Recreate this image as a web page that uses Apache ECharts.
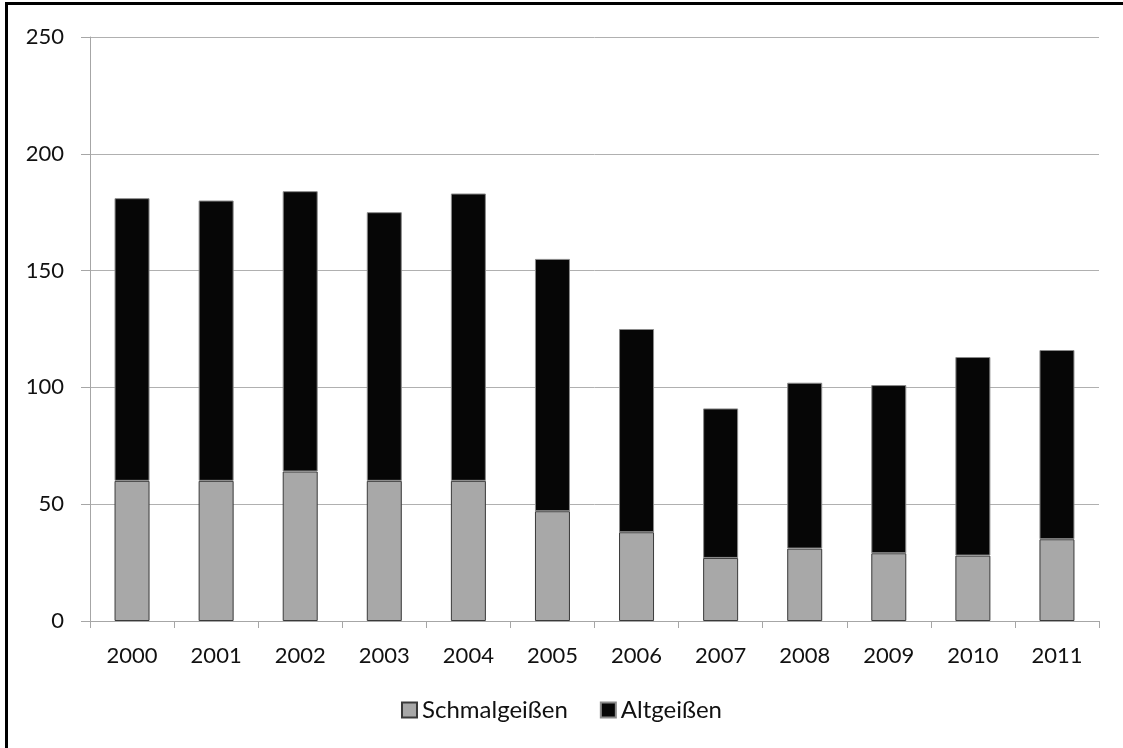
<!DOCTYPE html>
<html>
<head>
<meta charset="utf-8">
<script src="https://cdn.jsdelivr.net/npm/echarts@6/dist/echarts.min.js"></script>
<style>
  html, body { margin: 0; padding: 0; background: #fff; overflow: hidden; }
  #frame { position: absolute; left: 5px; top: 2px; width: 1130px; height: 760px;
           border-left: 3px solid #000; border-top: 3px solid #000; box-sizing: border-box; }
  #chart { position: absolute; left: 0; top: 0; width: 1123px; height: 748px; }
</style>
</head>
<body>
<div id="frame"></div>
<div id="chart"></div>
<script>
// Jahre und Abschusszahlen (Geißen)
const years = ['2000','2001','2002','2003','2004','2005','2006','2007','2008','2009','2010','2011'];
const schmalgeissen = [60, 60, 64, 60, 60, 47, 38, 27, 31, 29, 28, 35];
const altgeissen   = [121, 120, 120, 115, 123, 108, 87, 64, 71, 72, 85, 81];
const seriesNames = ['Schmalgeißen', 'Altgeißen'];

const FONT = 'Lato, "Open Sans", sans-serif';
const TEXT = '#111';
const chart = echarts.init(document.getElementById('chart'), null, { renderer: 'canvas' });

chart.setOption({
  animation: false,
  backgroundColor: 'transparent',
  textStyle: { fontFamily: FONT, color: TEXT },
  grid: { left: 90, right: 24, top: 37, bottom: 127, containLabel: false },
  legend: {
    data: seriesNames,
    bottom: 21,
    left: 'center',
    itemWidth: 15,
    itemHeight: 15,
    itemGap: 32,
    icon: 'rect',
    textStyle: { fontFamily: FONT, fontSize: 24, color: TEXT }
  },
  xAxis: {
    type: 'category',
    data: years,
    axisLine: { show: true, lineStyle: { color: '#a6a6a6', width: 1 } },
    axisTick: { show: true, alignWithLabel: false, length: 7, lineStyle: { color: '#a6a6a6' } },
    axisLabel: { fontFamily: FONT, fontSize: 22, color: TEXT, margin: 24 }
  },
  yAxis: {
    type: 'value',
    min: 0, max: 250, interval: 50,
    axisLine: { show: true, lineStyle: { color: '#a6a6a6', width: 1 } },
    axisTick: { show: true, inside: false, length: 9, lineStyle: { color: '#a6a6a6' } },
    axisLabel: { fontFamily: FONT, fontSize: 22, color: TEXT, margin: 26 },
    splitLine: { show: true, lineStyle: { color: '#b0b0b0', width: 1 } }
  },
  series: [
    {
      name: seriesNames[0],
      type: 'bar',
      stack: 'total',
      barWidth: 35,
      data: schmalgeissen,
      itemStyle: { color: '#a8a8a8', borderColor: '#3a3a3a', borderWidth: 1 }
    },
    {
      name: seriesNames[1],
      type: 'bar',
      stack: 'total',
      barWidth: 35,
      data: altgeissen,
      itemStyle: { color: '#060606', borderColor: '#8a8a8a', borderWidth: 1 }
    }
  ]
});
</script>
</body>
</html>
